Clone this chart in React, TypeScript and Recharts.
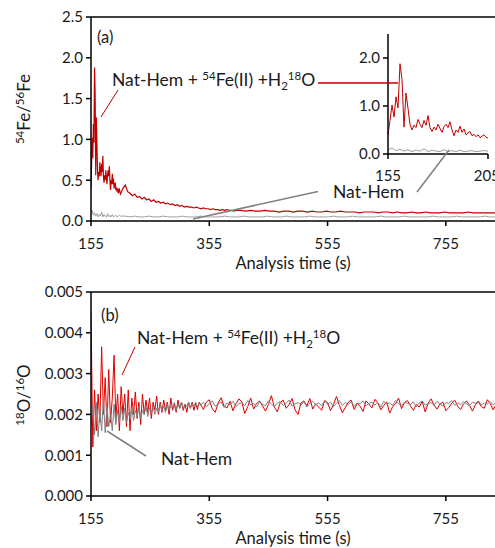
import React from 'react';
import { LineChart, Line, XAxis, YAxis, ReferenceLine } from 'recharts';

const FONT = 'Lato, "Open Sans", sans-serif';
const TEXT = '#1a1a1a';
const RED = '#C00000';
const RED_B = '#DD0000';
const GRAY_A = '#A0A0A0';
const GRAY_B = '#808080';

const xTicks = [155, 355, 555, 755];
const feTicks = [0, 0.5, 1, 1.5, 2, 2.5];
const oTicks = [0, 0.001, 0.002, 0.003, 0.004, 0.005];
const insetXTicks = [155, 205];
const insetYTicks = [0, 1, 2];

// Panel (a): 54Fe/56Fe, Nat-Hem + 54Fe(II) + H2 18O (red)
// t = 155..205, every 1 s
const redA1 = [0.40, 0.70, 1.02, 0.77, 1.19, 0.96, 1.88, 1.55, 0.56, 1.27, 0.95, 0.62, 0.50, 0.60, 0.55, 0.72, 0.62, 0.55, 0.70, 0.60, 0.80, 0.55, 0.47, 0.56, 0.50, 0.62, 0.53, 0.45, 0.57, 0.62, 0.55, 0.67, 0.50, 0.38, 0.50, 0.45, 0.58, 0.45, 0.52, 0.40, 0.44, 0.47, 0.38, 0.41, 0.36, 0.40, 0.34, 0.37, 0.40, 0.35, 0.33];
// t = 209..401, every 4 s
const redA2 = [0.40, 0.44, 0.36, 0.34, 0.31, 0.33, 0.29, 0.30, 0.27, 0.29, 0.26, 0.27, 0.24, 0.26, 0.23, 0.24, 0.22, 0.23, 0.21, 0.22, 0.20, 0.21, 0.19, 0.20, 0.18, 0.19, 0.17, 0.18, 0.17, 0.17, 0.16, 0.17, 0.16, 0.15, 0.16, 0.15, 0.15, 0.14, 0.15, 0.14, 0.14, 0.13, 0.14, 0.13, 0.14, 0.13, 0.13, 0.12, 0.13];
// t = 409..857, every 8 s
const redA3 = [0.13, 0.12, 0.13, 0.12, 0.12, 0.13, 0.12, 0.12, 0.11, 0.12, 0.12, 0.11, 0.12, 0.12, 0.11, 0.12, 0.11, 0.11, 0.12, 0.11, 0.11, 0.12, 0.11, 0.11, 0.11, 0.10, 0.11, 0.11, 0.11, 0.10, 0.11, 0.11, 0.10, 0.11, 0.10, 0.10, 0.11, 0.10, 0.10, 0.11, 0.10, 0.10, 0.10, 0.11, 0.10, 0.10, 0.10, 0.10, 0.11, 0.10, 0.10, 0.10, 0.10, 0.10, 0.10, 0.10, 0.10];

// Panel (a): Nat-Hem (gray)
// t = 155..205, every 2 s
const grayA1 = [0.08, 0.13, 0.07, 0.10, 0.06, 0.09, 0.05, 0.08, 0.06, 0.11, 0.05, 0.08, 0.06, 0.05, 0.09, 0.05, 0.07, 0.05, 0.08, 0.05, 0.06, 0.07, 0.05, 0.06, 0.07, 0.06];
// t = 213..853, every 8 s
const grayA2 = [0.06, 0.05, 0.06, 0.05, 0.05, 0.06, 0.05, 0.05, 0.06, 0.05, 0.05, 0.05, 0.06, 0.05, 0.05, 0.05, 0.06, 0.05, 0.05, 0.05, 0.05, 0.06, 0.05, 0.05, 0.05, 0.06, 0.05, 0.05, 0.05, 0.05, 0.06, 0.05, 0.05, 0.05, 0.06, 0.05, 0.05, 0.05, 0.05, 0.06, 0.05, 0.05, 0.05, 0.05, 0.06, 0.05, 0.05, 0.05, 0.06, 0.05, 0.05, 0.05, 0.05, 0.05, 0.06, 0.05, 0.05, 0.05, 0.05, 0.06, 0.05, 0.05, 0.05, 0.05, 0.05, 0.06, 0.05, 0.05, 0.05, 0.05, 0.06, 0.05, 0.05, 0.05, 0.05, 0.05, 0.06, 0.05, 0.05, 0.05, 0.05];

// Panel (b): 18O/16O, red
// t = 155..338, every 3 s
const redB1 = [0.00450, 0.00120, 0.00260, 0.00160, 0.00250, 0.00180, 0.00366, 0.00200, 0.00290, 0.00170, 0.00310, 0.00180, 0.00240, 0.00345, 0.00190, 0.00250, 0.00160, 0.00268, 0.00200, 0.00250, 0.00170, 0.00260, 0.00160, 0.00240, 0.00200, 0.00255, 0.00190, 0.00230, 0.00175, 0.00250, 0.00200, 0.00235, 0.00205, 0.00240, 0.00190, 0.00230, 0.00210, 0.00245, 0.00200, 0.00230, 0.00205, 0.00235, 0.00210, 0.00230, 0.00200, 0.00240, 0.00210, 0.00225, 0.00205, 0.00235, 0.00215, 0.00230, 0.00210, 0.00225, 0.00205, 0.00230, 0.00215, 0.00230, 0.00210, 0.00228, 0.00212, 0.00230];
// t = 340..855, every 5 s
const redB2 = [0.00225, 0.00212, 0.00230, 0.00236, 0.00214, 0.00205, 0.00228, 0.00241, 0.00220, 0.00216, 0.00232, 0.00209, 0.00226, 0.00238, 0.00231, 0.00202, 0.00219, 0.00240, 0.00213, 0.00227, 0.00233, 0.00221, 0.00208, 0.00224, 0.00246, 0.00218, 0.00206, 0.00229, 0.00235, 0.00215, 0.00224, 0.00239, 0.00211, 0.00200, 0.00228, 0.00233, 0.00221, 0.00239, 0.00213, 0.00226, 0.00218, 0.00210, 0.00234, 0.00229, 0.00209, 0.00224, 0.00244, 0.00222, 0.00204, 0.00217, 0.00230, 0.00235, 0.00212, 0.00227, 0.00220, 0.00207, 0.00233, 0.00225, 0.00216, 0.00237, 0.00228, 0.00211, 0.00222, 0.00231, 0.00203, 0.00219, 0.00226, 0.00240, 0.00214, 0.00229, 0.00234, 0.00221, 0.00210, 0.00224, 0.00218, 0.00232, 0.00206, 0.00227, 0.00238, 0.00223, 0.00213, 0.00225, 0.00230, 0.00209, 0.00217, 0.00228, 0.00235, 0.00220, 0.00212, 0.00226, 0.00233, 0.00222, 0.00208, 0.00224, 0.00231, 0.00219, 0.00215, 0.00236, 0.00227, 0.00211, 0.00225, 0.00221, 0.00230, 0.00220];

// Panel (b): Nat-Hem (gray)
// t = 155..338, every 3 s
const grayB1 = [0.00170, 0.00220, 0.00150, 0.00230, 0.00145, 0.00210, 0.00160, 0.00240, 0.00155, 0.00220, 0.00170, 0.00200, 0.00160, 0.00225, 0.00175, 0.00210, 0.00180, 0.00220, 0.00185, 0.00215, 0.00180, 0.00205, 0.00190, 0.00215, 0.00185, 0.00210, 0.00195, 0.00220, 0.00190, 0.00210, 0.00200, 0.00220, 0.00195, 0.00215, 0.00205, 0.00220, 0.00200, 0.00215, 0.00205, 0.00225, 0.00210, 0.00220, 0.00205, 0.00225, 0.00210, 0.00220, 0.00215, 0.00230, 0.00210, 0.00225, 0.00215, 0.00230, 0.00215, 0.00225, 0.00220, 0.00230, 0.00215, 0.00225, 0.00220, 0.00230, 0.00218, 0.00228];
// t = 340..855, every 5 s
const grayB2 = [0.00222, 0.00230, 0.00218, 0.00227, 0.00233, 0.00220, 0.00225, 0.00231, 0.00217, 0.00228, 0.00224, 0.00232, 0.00219, 0.00226, 0.00229, 0.00221, 0.00234, 0.00223, 0.00227, 0.00218, 0.00230, 0.00225, 0.00221, 0.00233, 0.00226, 0.00219, 0.00228, 0.00231, 0.00222, 0.00227, 0.00235, 0.00220, 0.00226, 0.00229, 0.00223, 0.00231, 0.00218, 0.00227, 0.00232, 0.00224, 0.00228, 0.00221, 0.00233, 0.00225, 0.00230, 0.00219, 0.00227, 0.00234, 0.00222, 0.00229, 0.00224, 0.00231, 0.00220, 0.00228, 0.00226, 0.00233, 0.00221, 0.00227, 0.00230, 0.00223, 0.00229, 0.00218, 0.00232, 0.00225, 0.00228, 0.00222, 0.00234, 0.00226, 0.00221, 0.00230, 0.00227, 0.00224, 0.00231, 0.00219, 0.00228, 0.00233, 0.00223, 0.00226, 0.00229, 0.00222, 0.00232, 0.00225, 0.00220, 0.00229, 0.00227, 0.00234, 0.00222, 0.00228, 0.00224, 0.00231, 0.00226, 0.00221, 0.00230, 0.00227, 0.00233, 0.00223, 0.00228, 0.00225, 0.00231, 0.00224, 0.00229, 0.00222, 0.00230, 0.00227];

type Pt = { t: number; v: number };
const series = (start: number, step: number, values: number[]): Pt[] =>
  values.map((v, i) => ({ t: start + step * i, v }));

const redA: Pt[] = [...series(155, 1, redA1), ...series(209, 4, redA2), ...series(409, 8, redA3)];
const grayA: Pt[] = [...series(155, 2, grayA1), ...series(213, 8, grayA2)];
const redInset: Pt[] = series(155, 1, redA1);
const grayInset: Pt[] = series(155, 2, grayA1);
const redB: Pt[] = [...series(155, 3, redB1), ...series(340, 5, redB2)];
const grayB: Pt[] = [...series(155, 3, grayB1), ...series(340, 5, grayB2)];

const tickStyle = { fill: TEXT, fontSize: 15, fontFamily: FONT };
const axisStyle = { stroke: '#000', strokeWidth: 1.5 };

function ComboLabel({ x, y }: { x: number; y: number }) {
  return (
    <text x={x} y={y} fontSize={17.5} fill={TEXT} fontFamily={FONT}>
      Nat-Hem +{' '}
      <tspan dy={-6} fontSize={11.5}>54</tspan>
      <tspan dy={6}>Fe(II) +H</tspan>
      <tspan dy={4} fontSize={11.5}>2</tspan>
      <tspan dy={-10} fontSize={11.5}>18</tspan>
      <tspan dy={6}>O</tspan>
    </text>
  );
}

export default function App() {
  return (
    <div
      style={{
        position: 'absolute',
        left: 0,
        top: 0,
        width: 495,
        height: 548,
        overflow: 'hidden',
        background: '#fff',
        fontFamily: FONT,
      }}
    >
      {/* Panel (a) */}
      <div style={{ position: 'absolute', left: 0, top: 0 }}>
        <LineChart width={540} height={262} margin={{ top: 17, right: 35, left: 0, bottom: 0 }}>
          <XAxis
            type="number"
            dataKey="t"
            domain={[155, 855]}
            ticks={xTicks}
            allowDataOverflow
            height={41}
            axisLine={axisStyle}
            tickLine={axisStyle}
            tickSize={5}
            tickMargin={12}
            tick={tickStyle}
          />
          <YAxis
            type="number"
            dataKey="v"
            domain={[0, 2.5]}
            ticks={feTicks}
            tickFormatter={(v: number) => v.toFixed(1)}
            width={91}
            axisLine={axisStyle}
            tickLine={axisStyle}
            tickSize={5}
            tickMargin={3}
            tick={tickStyle}
          />
          <ReferenceLine y={2.5} stroke="#000" strokeWidth={1.5} />
          <Line data={grayA} dataKey="v" stroke={GRAY_A} strokeWidth={1} dot={false} isAnimationActive={false} />
          <Line data={redA} dataKey="v" stroke={RED} strokeWidth={1.2} dot={false} isAnimationActive={false} />
        </LineChart>
      </div>

      {/* Inset */}
      <div style={{ position: 'absolute', left: 348, top: 29 }}>
        <LineChart width={150} height={155} margin={{ top: 5, right: 10, left: 0, bottom: 0 }}>
          <XAxis
            type="number"
            dataKey="t"
            domain={[155, 205]}
            ticks={insetXTicks}
            height={30}
            axisLine={axisStyle}
            tickLine={axisStyle}
            tickSize={5}
            tickMargin={11}
            tick={tickStyle}
          />
          <YAxis
            type="number"
            dataKey="v"
            domain={[0, 2.5]}
            ticks={insetYTicks}
            tickFormatter={(v: number) => v.toFixed(1)}
            width={40}
            axisLine={axisStyle}
            tickLine={axisStyle}
            tickSize={5}
            tickMargin={3}
            tick={tickStyle}
          />
          <Line data={grayInset} dataKey="v" stroke={GRAY_A} strokeWidth={1} dot={false} isAnimationActive={false} />
          <Line data={redInset} dataKey="v" stroke={RED} strokeWidth={1} dot={false} isAnimationActive={false} />
        </LineChart>
      </div>

      {/* Panel (b) */}
      <div style={{ position: 'absolute', left: 0, top: 275 }}>
        <LineChart width={540} height={262} margin={{ top: 17, right: 35, left: 0, bottom: 0 }}>
          <XAxis
            type="number"
            dataKey="t"
            domain={[155, 855]}
            ticks={xTicks}
            allowDataOverflow
            height={41}
            axisLine={axisStyle}
            tickLine={axisStyle}
            tickSize={5}
            tickMargin={12}
            tick={tickStyle}
          />
          <YAxis
            type="number"
            dataKey="v"
            domain={[0, 0.005]}
            ticks={oTicks}
            tickFormatter={(v: number) => v.toFixed(3)}
            width={91}
            axisLine={axisStyle}
            tickLine={axisStyle}
            tickSize={5}
            tickMargin={3}
            tick={tickStyle}
          />
          <ReferenceLine y={0.005} stroke="#000" strokeWidth={1.5} />
          <Line data={redB} dataKey="v" stroke={RED_B} strokeWidth={1} dot={false} isAnimationActive={false} />
          <Line data={grayB} dataKey="v" stroke={GRAY_B} strokeWidth={1} dot={false} isAnimationActive={false} />
        </LineChart>
      </div>

      {/* Annotations */}
      <svg
        width={495}
        height={548}
        style={{ position: 'absolute', left: 0, top: 0, pointerEvents: 'none' }}
        fontFamily={FONT}
      >
        {/* Axis titles */}
        <text x={293} y={269} textAnchor="middle" fontSize={16.5} fill={TEXT}>Analysis time (s)</text>
        <text x={293} y={544} textAnchor="middle" fontSize={16.5} fill={TEXT}>Analysis time (s)</text>
        <text transform="translate(30,109) rotate(-90)" textAnchor="middle" fontSize={17} fill={TEXT}>
          <tspan dy={-6} fontSize={11.5}>54</tspan>
          <tspan dy={6}>Fe/</tspan>
          <tspan dy={-6} fontSize={11.5}>56</tspan>
          <tspan dy={6}>Fe</tspan>
        </text>
        <text transform="translate(30,395) rotate(-90)" textAnchor="middle" fontSize={17} fill={TEXT}>
          <tspan dy={-6} fontSize={11.5}>18</tspan>
          <tspan dy={6}>O/</tspan>
          <tspan dy={-6} fontSize={11.5}>16</tspan>
          <tspan dy={6}>O</tspan>
        </text>

        {/* Panel (a) annotations */}
        <text x={97} y={43} fontSize={16.5} fill={TEXT}>(a)</text>
        <ComboLabel x={112} y={86} />
        <line x1={101} y1={117} x2={118} y2={90} stroke={RED} strokeWidth={1} />
        <line x1={318} y1={83} x2={398} y2={83} stroke={RED} strokeWidth={1.5} />
        <text x={333} y={198} fontSize={17.5} fill={TEXT}>Nat-Hem</text>
        <line x1={318} y1={191.5} x2={193} y2={219} stroke={GRAY_B} strokeWidth={1.5} />
        <line x1={417} y1={192} x2={449} y2={150} stroke={GRAY_B} strokeWidth={1.5} />

        {/* Panel (b) annotations */}
        <text x={101} y={321} fontSize={16.5} fill={TEXT}>(b)</text>
        <ComboLabel x={137} y={344} />
        <line x1={122} y1={375} x2={135} y2={347} stroke={RED} strokeWidth={1} />
        <text x={161} y={465} fontSize={17.5} fill={TEXT}>Nat-Hem</text>
        <line x1={146} y1={456} x2={107} y2={431} stroke={GRAY_B} strokeWidth={1.5} />
      </svg>
    </div>
  );
}
